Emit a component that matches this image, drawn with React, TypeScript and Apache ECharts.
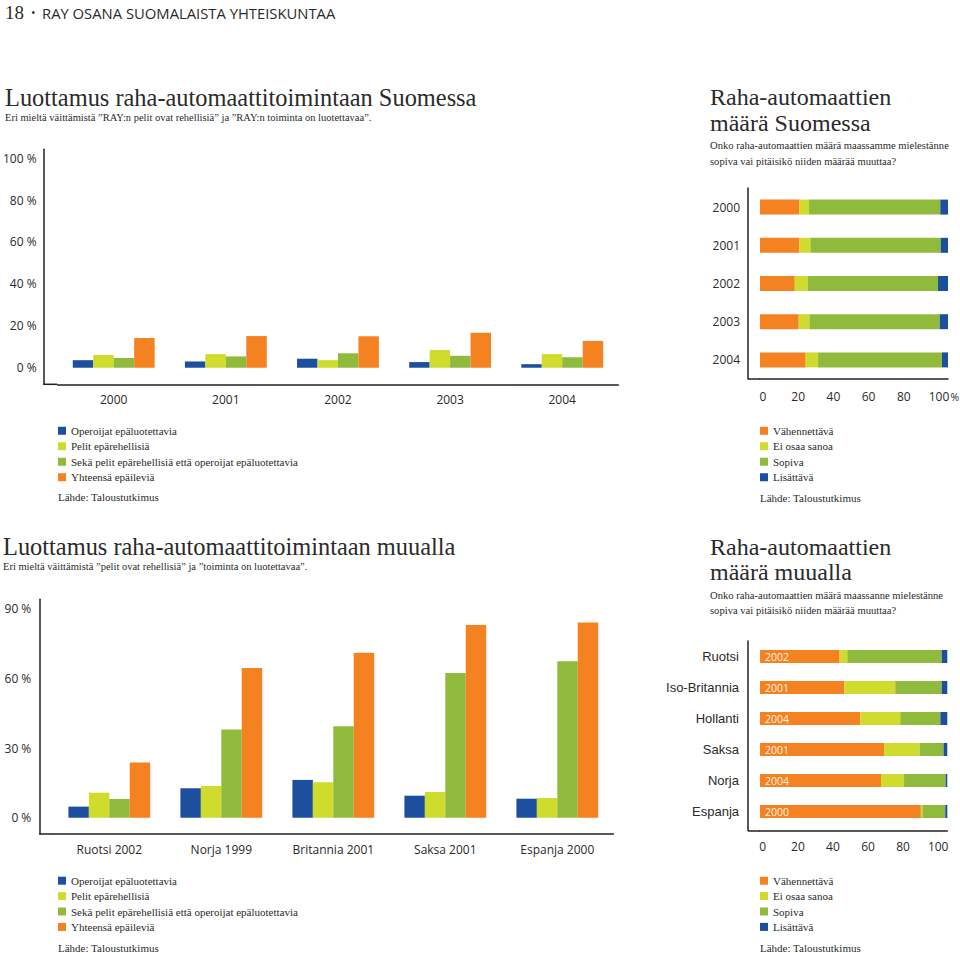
import React, { useEffect, useRef } from "react";
import * as echarts from "echarts";

const BLUE = "#1d4f9f";
const LIME = "#cfdc2e";
const GREEN = "#8fba3c";
const ORANGE = "#f48221";

// Chart 1: Luottamus raha-automaattitoimintaan Suomessa
const finYears = ["2000", "2001", "2002", "2003", "2004"];
const finOperators = [3.6, 3.0, 4.3, 2.7, 1.7];
const finGames = [6.1, 6.5, 3.6, 8.5, 6.5];
const finBoth = [4.7, 5.4, 6.9, 5.7, 5.0];
const finTotal = [14.2, 15.1, 15.0, 16.7, 12.8];
const finPctTicks = [0, 20, 40, 60, 80, 100];

// Chart 2: Raha-automaattien määrä Suomessa
const finCountYears = ["2000", "2001", "2002", "2003", "2004"];
const finDecrease = [21.0, 21.0, 18.5, 20.6, 24.3];
const finDontKnow = [5.1, 5.8, 6.9, 5.7, 6.6];
const finSuitable = [69.8, 69.3, 69.3, 69.3, 65.9];
const finIncrease = [4.1, 3.9, 5.3, 4.4, 3.2];
const shareTicks = [0, 20, 40, 60, 80, 100];

// Chart 3: Luottamus raha-automaattitoimintaan muualla
const abroadCats = ["Ruotsi 2002", "Norja 1999", "Britannia 2001", "Saksa 2001", "Espanja 2000"];
const abroadOperators = [4.8, 12.7, 16.3, 9.5, 8.2];
const abroadGames = [10.8, 13.7, 15.3, 11.1, 8.5];
const abroadBoth = [8.1, 38.0, 39.4, 62.3, 67.4];
const abroadTotal = [23.8, 64.5, 71.1, 83.0, 84.1];
const abroadPctTicks = [0, 30, 60, 90];

// Chart 4: Raha-automaattien määrä muualla
const countries = ["Ruotsi", "Iso-Britannia", "Hollanti", "Saksa", "Norja", "Espanja"];
const countryYears = ["2002", "2001", "2004", "2001", "2004", "2000"];
const cDecrease = [42.5, 45.0, 53.6, 66.2, 64.6, 85.9];
const cDontKnow = [4.1, 27.2, 21.3, 19.0, 12.3, 0.8];
const cSuitable = [50.4, 24.8, 21.4, 12.8, 22.2, 12.2];
const cIncrease = [3.0, 3.0, 3.7, 2.0, 0.9, 1.1];

const S_OPER = "Operoijat epäluotettavia";
const S_GAMES = "Pelit epärehellisiä";
const S_BOTH = "Sekä pelit epärehellisiä että operoijat epäluotettavia";
const S_TOTAL = "Yhteensä epäileviä";
const S_DEC = "Vähennettävä";
const S_DK = "Ei osaa sanoa";
const S_OK = "Sopiva";
const S_INC = "Lisättävä";

const SERIF = "'Liberation Serif', 'Times New Roman', serif";
const SANS = "'Open Sans', 'DejaVu Sans', sans-serif";
const HELV = "'Liberation Sans', Arial, sans-serif";
const AX = "#222";
const TXT = "#2a2a2a";

const axisLine = { show: true, onZero: false, lineStyle: { color: AX, width: 1.5 } };
const sansLabel = { fontFamily: SANS, fontSize: 12, color: TXT };

function txt(text: string, x: number, y: number, size: number, family = SERIF, color = TXT) {
  return {
    type: "text",
    x,
    y,
    style: { text, fontFamily: family, fontSize: size, fill: color, verticalAlign: "middle", align: "left" },
  };
}
function ln(x1: number, y1: number, x2: number, y2: number) {
  return { type: "line", shape: { x1, y1, x2, y2 }, style: { stroke: AX, lineWidth: 1.5 } };
}

export default function App() {
  const ref = useRef<HTMLDivElement>(null);
  useEffect(() => {
    document.body.style.margin = "0";
    if (!ref.current) return;
    const chart = echarts.init(ref.current, undefined, { renderer: "svg" });

    const vBar = (name: string, color: string, data: number[], xi: number, yi: number) => ({
      type: "bar",
      name,
      xAxisIndex: xi,
      yAxisIndex: yi,
      data,
      itemStyle: { color },
      barGap: "0%",
      barCategoryGap: "27%",
    });
    const hBar = (name: string, color: string, data: number[], xi: number, yi: number, stack: string, h: number, extra: any = {}) => ({
      type: "bar",
      name,
      stack,
      xAxisIndex: xi,
      yAxisIndex: yi,
      data,
      barWidth: h,
      itemStyle: { color },
      ...extra,
    });

    const option: any = {
      animation: false,
      backgroundColor: "#ffffff",
      grid: [
        { left: 57.3, top: 149.3, width: 561, height: 235, containLabel: false },
        { left: 760, top: 188, width: 188, height: 191, containLabel: false },
        { left: 53.3, top: 599.3, width: 560, height: 234.7, containLabel: false },
        { left: 760, top: 641, width: 187.3, height: 186, containLabel: false },
      ],
      xAxis: [
        {
          gridIndex: 0, type: "category", data: finYears, position: "bottom",
          axisLine, axisTick: { show: false },
          axisLabel: { ...sansLabel, margin: 9 },
        },
        {
          gridIndex: 1, type: "value", min: 0, max: 100, position: "bottom",
          axisLine, axisTick: { show: false }, axisLabel: { show: false }, splitLine: { show: false },
        },
        {
          gridIndex: 1, type: "value", min: -1.7, max: 105.1, position: "bottom",
          axisLine: { show: false, onZero: false }, axisTick: { show: false }, splitLine: { show: false },
          axisLabel: { ...sansLabel, margin: 11, customValues: shareTicks },
        },
        {
          gridIndex: 2, type: "category", data: abroadCats, position: "bottom",
          axisLine, axisTick: { show: false },
          axisLabel: { ...sansLabel, margin: 9 },
        },
        {
          gridIndex: 3, type: "value", min: 0, max: 100, offset: 4, position: "bottom",
          axisLine, axisTick: { show: false }, axisLabel: { show: false }, splitLine: { show: false },
        },
        {
          gridIndex: 3, type: "value", min: -1.6, max: 105.2, offset: 4, position: "bottom",
          axisLine: { show: false, onZero: false }, axisTick: { show: false }, splitLine: { show: false },
          axisLabel: { ...sansLabel, margin: 9, customValues: shareTicks },
        },
      ],
      yAxis: [
        {
          gridIndex: 0, type: "value", min: -7.9, max: 104.2, offset: 14, position: "left",
          axisLine, axisTick: { show: false }, splitLine: { show: false },
          axisLabel: { ...sansLabel, margin: 7, customValues: finPctTicks, formatter: (v: number) => `${v} %` },
        },
        {
          gridIndex: 1, type: "category", data: finCountYears, inverse: true, offset: 12, position: "left",
          axisLine, axisTick: { show: false },
          axisLabel: { ...sansLabel, margin: 8 },
        },
        {
          gridIndex: 2, type: "value", min: -7.0, max: 94.1, offset: 14, position: "left",
          axisLine, axisTick: { show: false }, splitLine: { show: false },
          axisLabel: { ...sansLabel, margin: 8, customValues: abroadPctTicks, formatter: (v: number) => `${v} %` },
        },
        {
          gridIndex: 3, type: "category", data: countries, inverse: true, offset: 12, position: "left",
          axisLine, axisTick: { show: false },
          axisLabel: { fontFamily: HELV, fontSize: 13, color: TXT, margin: 9 },
        },
      ],
      legend: [
        {
          left: 58, top: 423, orient: "vertical", padding: 0, itemGap: 0, itemWidth: 8, itemHeight: 8,
          icon: "rect", selectedMode: false,
          data: [S_OPER, S_GAMES, S_BOTH, S_TOTAL],
          textStyle: { fontFamily: SERIF, fontSize: 11, color: TXT, lineHeight: 15.5 },
        },
        {
          left: 760, top: 423, orient: "vertical", padding: 0, itemGap: 0, itemWidth: 8, itemHeight: 8,
          icon: "rect", selectedMode: false,
          data: [S_DEC, S_DK, S_OK, S_INC],
          textStyle: { fontFamily: SERIF, fontSize: 11, color: TXT, lineHeight: 15.5 },
        },
        {
          left: 58, top: 873, orient: "vertical", padding: 0, itemGap: 0, itemWidth: 8, itemHeight: 8,
          icon: "rect", selectedMode: false,
          data: [S_OPER, S_GAMES, S_BOTH, S_TOTAL],
          textStyle: { fontFamily: SERIF, fontSize: 11, color: TXT, lineHeight: 15.4 },
        },
        {
          left: 760, top: 873, orient: "vertical", padding: 0, itemGap: 0, itemWidth: 8, itemHeight: 8,
          icon: "rect", selectedMode: false,
          data: [S_DEC, S_DK, S_OK, S_INC],
          textStyle: { fontFamily: SERIF, fontSize: 11, color: TXT, lineHeight: 15.4 },
        },
      ],
      series: [
        vBar(S_OPER, BLUE, finOperators, 0, 0),
        vBar(S_GAMES, LIME, finGames, 0, 0),
        vBar(S_BOTH, GREEN, finBoth, 0, 0),
        vBar(S_TOTAL, ORANGE, finTotal, 0, 0),

        hBar(S_DEC, ORANGE, finDecrease, 1, 1, "fin", 15),
        hBar(S_DK, LIME, finDontKnow, 1, 1, "fin", 15),
        hBar(S_OK, GREEN, finSuitable, 1, 1, "fin", 15),
        hBar(S_INC, BLUE, finIncrease, 1, 1, "fin", 15),

        vBar(S_OPER, BLUE, abroadOperators, 3, 2),
        vBar(S_GAMES, LIME, abroadGames, 3, 2),
        vBar(S_BOTH, GREEN, abroadBoth, 3, 2),
        vBar(S_TOTAL, ORANGE, abroadTotal, 3, 2),

        hBar(S_DEC, ORANGE, cDecrease, 4, 3, "abroad", 13, {
          label: {
            show: true,
            position: "insideLeft",
            distance: 5,
            formatter: (p: any) => countryYears[p.dataIndex],
            fontFamily: SANS,
            fontSize: 10.5,
            color: "#fff1e2",
          },
        }),
        hBar(S_DK, LIME, cDontKnow, 4, 3, "abroad", 13),
        hBar(S_OK, GREEN, cSuitable, 4, 3, "abroad", 13),
        hBar(S_INC, BLUE, cIncrease, 4, 3, "abroad", 13),
      ],
      graphic: [
        txt("18", 5, 12.5, 19),
        txt("•", 31, 12.5, 12, SANS),
        txt("RAY OSANA SUOMALAISTA YHTEISKUNTAA", 42, 12.5, 14.8, SANS),

        txt("Luottamus raha-automaattitoimintaan Suomessa", 5, 97.8, 24.4),
        txt("Eri mieltä väittämistä ”RAY:n pelit ovat rehellisiä” ja ”RAY:n toiminta on luotettavaa”.", 5, 117, 10.5),

        txt("Raha-automaattien", 710, 96.8, 24),
        txt("määrä Suomessa", 710, 123.3, 24),
        txt("Onko raha-automaattien määrä maassamme mielestänne", 710, 145.5, 10.6),
        txt("sopiva vai pitäisikö niiden määrää muuttaa?", 710, 161, 10.6),

        txt("Luottamus raha-automaattitoimintaan muualla", 3, 546.8, 24.4),
        txt("Eri mieltä väittämistä ”pelit ovat rehellisiä” ja ”toiminta on luotettavaa”.", 3, 566, 10.5),

        txt("Raha-automaattien", 710, 546.8, 24),
        txt("määrä muualla", 710, 572.3, 24),
        txt("Onko raha-automaattien määrä maassanne mielestänne", 710, 595, 10.6),
        txt("sopiva vai pitäisikö niiden määrää muuttaa?", 710, 610.5, 10.6),

        txt("%", 950.5, 397, 10.5, SANS),

        txt("Lähde: Taloustutkimus", 58, 497, 11),
        txt("Lähde: Taloustutkimus", 760, 498, 11),
        txt("Lähde: Taloustutkimus", 58, 948, 11),
        txt("Lähde: Taloustutkimus", 760, 948, 11),

        ln(43.3, 384.3, 57.3, 384.3),
        ln(748, 379, 760, 379),
        ln(39.3, 834, 53.3, 834),
        ln(748, 827, 748, 831),
        ln(748, 831, 760, 831),
      ],
    };
    chart.setOption(option);
    return () => chart.dispose();
  }, []);
  return <div ref={ref} style={{ width: 960, height: 953 }} />;
}
